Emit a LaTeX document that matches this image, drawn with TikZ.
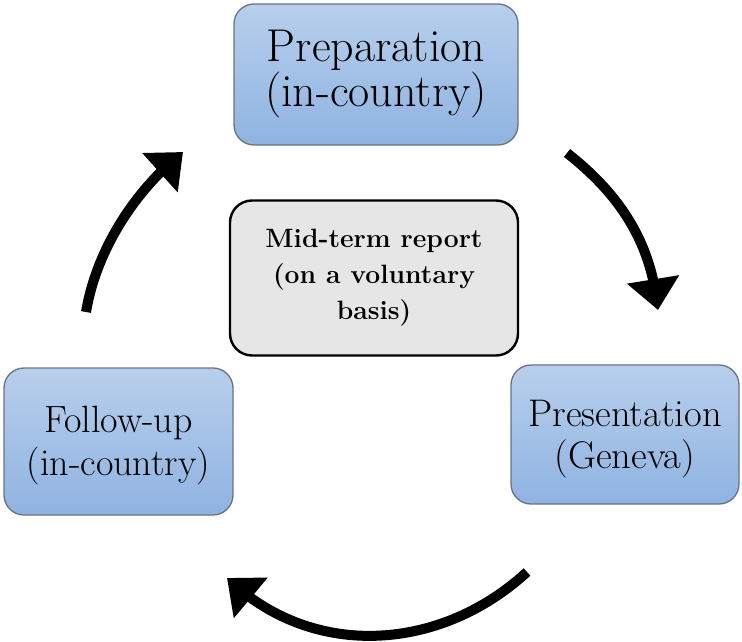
\documentclass[tikz,border=0pt]{standalone}
\usepackage{fontspec}
\setmainfont{Latin Modern Roman}
\usetikzlibrary{arrows.meta,bending}
\definecolor{boxtop}{RGB}{184,207,236}
\definecolor{boxbot}{RGB}{143,179,225}
\definecolor{boxedge}{RGB}{105,115,130}
\definecolor{midfill}{RGB}{230,230,230}
\tikzset{
  stagebox/.style={rectangle, rounded corners=20pt, draw=boxedge, line width=1.3pt,
    top color=boxtop, bottom color=boxbot, align=center, inner sep=0pt},
  stagetext/.style={align=center, inner sep=0pt},
  midbox/.style={rectangle, rounded corners=22pt, draw=black, line width=2.4pt,
    fill=midfill, align=center, inner sep=0pt},
  cyclearrow/.style={line width=10pt, -{Triangle[width=51pt,length=31pt,flex]}}
}
\begin{document}
\begin{tikzpicture}[x=1pt,y=-1pt]
\useasboundingbox (0,0) rectangle (742,642);
\node[stagebox, minimum width=284pt, minimum height=141pt,
  font=\fontsize{46}{45}\selectfont] (prep) at (376,74.5) {Preparation\\(in-country)};
\node[midbox, minimum width=288pt, minimum height=155pt,
  font=\fontsize{26.5}{36}\selectfont\bfseries] (mid) at (374,278) {Mid-term report\\(on a voluntary\\basis)};
\node[stagebox, minimum width=229pt, minimum height=147pt] (follow) at (118.5,441.5) {};
\node[stagetext, font=\fontsize{38}{43}\selectfont] (followtext) at (118.5,446) {Follow-up\\(in-country)};
\node[stagebox, minimum width=228pt, minimum height=139pt] (pres) at (625,434.5) {};
\node[stagetext, font=\fontsize{38.5}{42}\selectfont] (prestext) at (625,439.5) {Presentation\\(Geneva)};
\coordinate (a1s) at (567,153);
\coordinate (a1e) at (658,310);
\coordinate (a2s) at (527,572);
\coordinate (a2e) at (227,578);
\coordinate (a3s) at (86,312);
\coordinate (a3e) at (183,152);
\draw[cyclearrow] (a1s) .. controls (627,200) and (652,250) .. (a1e);
\draw[cyclearrow] (a2s) .. controls (440,652) and (312,660) .. (a2e);
\draw[cyclearrow] (a3s) .. controls (96,252) and (133,192) .. (a3e);
\end{tikzpicture}
\end{document}
